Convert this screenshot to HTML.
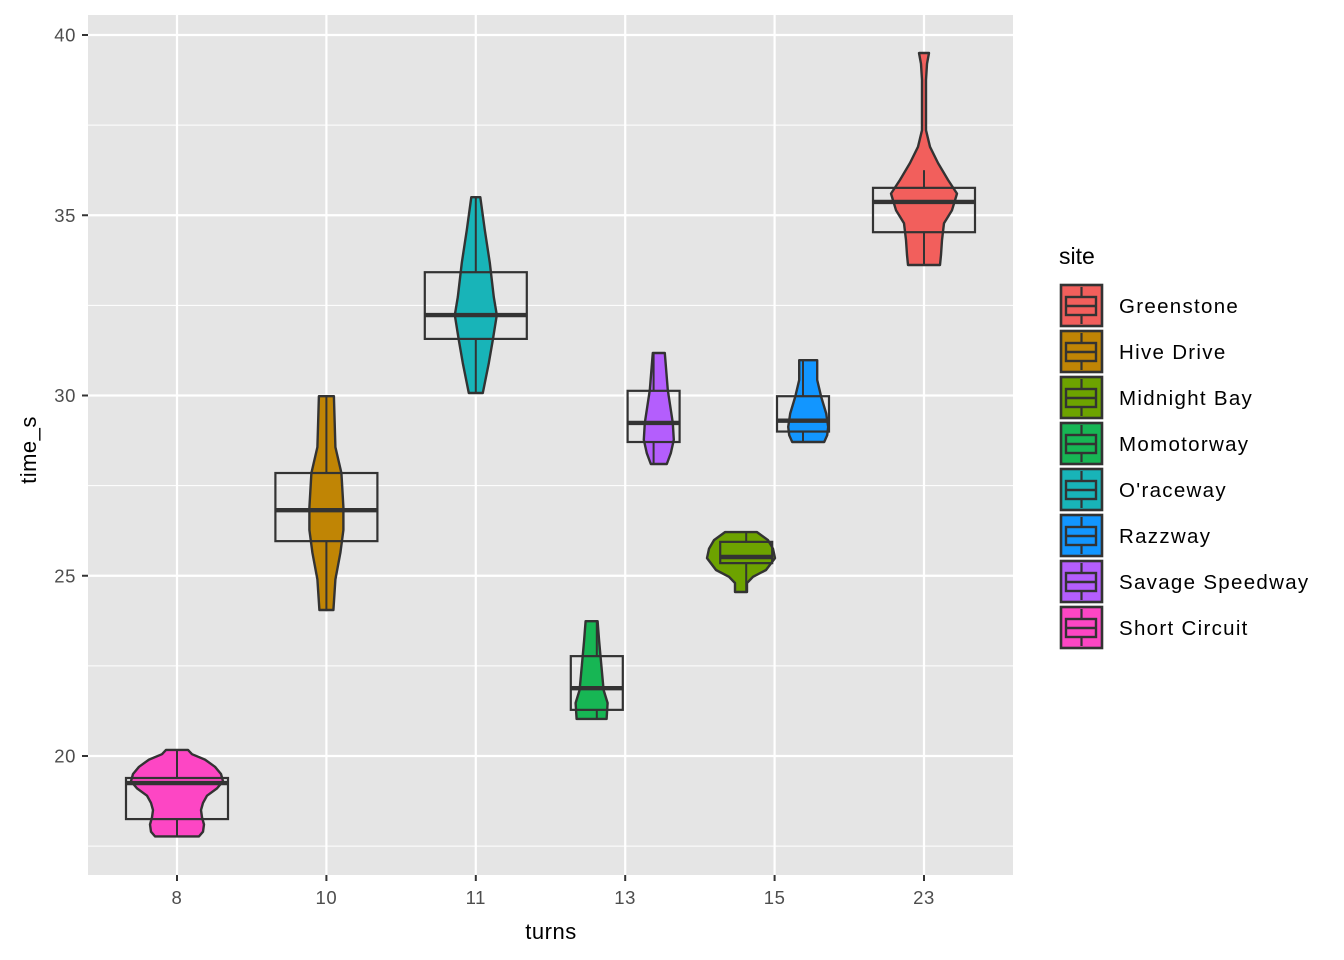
<!DOCTYPE html>
<html><head><meta charset="utf-8"><style>
html,body{margin:0;padding:0;background:#fff;}
svg{display:block;font-family:"Liberation Sans",Arial,sans-serif;}
</style></head><body>
<svg id="chart" width="1344" height="960" viewBox="0 0 1344 960"></svg>
<script>
const categories = ["8","10","11","13","15","23"];
const sites = ["Greenstone","Hive Drive","Midnight Bay","Momotorway","O'raceway","Razzway","Savage Speedway","Short Circuit"];
const colors = ["#F25F5C","#C08505","#6DA300","#17B654","#18B4B8","#1296FF","#B45EFD","#FD46C4"];
const siteCategory = [5,1,4,3,2,4,3,0];
const siteDodge = [0,0,-1,-1,0,1,1,0];
const q1 = [34.53,25.96,25.35,21.28,31.57,29.0,28.71,18.25];
const medians = [35.37,26.82,25.52,21.88,32.23,29.3,29.24,19.25];
const q3 = [35.76,27.85,25.94,22.77,33.42,29.98,30.13,19.39];
const whiskerLow = [33.62,24.02,24.55,21.03,30.07,28.71,28.1,17.77];
const whiskerHigh = [36.25,29.98,26.21,23.74,35.5,30.98,31.18,20.17];
const violinVals = [
 [39.5,39.2,38.75,37.36,36.9,36.45,35.98,35.6,35.14,34.78,34.31,33.9,33.62],
 [29.98,29.5,28.57,27.85,26.9,26.27,25.64,24.9,24.05],
 [26.21,25.99,25.75,25.49,25.16,24.97,24.8,24.55],
 [23.74,23.2,22.74,21.83,21.47,21.03],
 [35.5,34.59,33.68,32.73,32.23,31.54,30.9,30.07],
 [30.98,30.43,29.96,29.5,29.13,28.9,28.71],
 [31.18,30.15,29.24,28.77,28.4,28.1],
 [20.17,20.05,19.9,19.7,19.5,19.3,19.1,18.9,18.7,18.5,18.3,18.1,17.9,17.77]
];
const violinWidths = [
 [5,3,2,2,6,14,24,33,28,20,18,17,16],
 [7.5,8,9,15,17,17,14,9,7],
 [16,27,32,34,25,12,6,6],
 [6,7.5,9,12,16,15],
 [4.5,9,14,18,21,17,13,7],
 [9,9,13,18,20,19,16],
 [6,9,14,15,12,8],
 [11,15,28,38,44,46,40,30,26,24,25,27,26,22]
];
const yTicks = [20,25,30,35,40];
const yMinor = [17.5,22.5,27.5,32.5,37.5];

const NS="http://www.w3.org/2000/svg";
const svg=document.getElementById('chart');
const P={l:88,r:1013,t:15,b:875};
function y(v){return 35+(40-v)*36.05;}
function x(i){return 177+i*149.4;}
function el(tag,attrs,parent){const e=document.createElementNS(NS,tag);for(const k in attrs)e.setAttribute(k,attrs[k]);(parent||svg).appendChild(e);return e;}

const panel=el('rect',{x:P.l,y:P.t,width:P.r-P.l,height:P.b-P.t,fill:'#E5E5E5'});


yMinor.forEach(v=>{const g=el('line',{x1:P.l,x2:P.r,y1:y(v),y2:y(v),stroke:'#fff','stroke-width':1.1});

});
yTicks.forEach(v=>{const g=el('line',{x1:P.l,x2:P.r,y1:y(v),y2:y(v),stroke:'#fff','stroke-width':2.2});


const t=el('line',{x1:P.l-6,x2:P.l,y1:y(v),y2:y(v),stroke:'#333','stroke-width':2});


const lb=el('text',{x:P.l-12,y:y(v)+6.5,'text-anchor':'end','font-size':18.5,'letter-spacing':0.6,fill:'#4D4D4D'});lb.textContent=v;

});
categories.forEach((c,i)=>{const g=el('line',{x1:x(i),x2:x(i),y1:P.t,y2:P.b,stroke:'#fff','stroke-width':2.2});


const t=el('line',{x1:x(i),x2:x(i),y1:P.b,y2:P.b+6,stroke:'#333','stroke-width':2});


const lb=el('text',{x:x(i),y:P.b+29,'text-anchor':'middle','font-size':18.5,'letter-spacing':0.6,fill:'#4D4D4D'});lb.textContent=c;

});

sites.forEach((s,k)=>{
  const g=el('g',{});
  
  
  const cv=x(siteCategory[k])+siteDodge[k]*33.6;
  const cb=x(siteCategory[k])+siteDodge[k]*28.4;
  const hb=siteDodge[k]===0?51:26;
  const vals=violinVals[k], w=violinWidths[k];
  let pts=[];
  vals.forEach((v,i)=>pts.push([cv+w[i],y(v)]));
  for(let i=vals.length-1;i>=0;i--)pts.push([cv-w[i],y(vals[i])]);
  const p=el('path',{d:'M'+pts.map(p=>p[0].toFixed(1)+','+p[1].toFixed(1)).join('L')+'Z',fill:colors[k],stroke:'#333','stroke-width':2.4,'stroke-linejoin':'round'},g);
  
  
  const w1=el('line',{x1:cb,x2:cb,y1:y(q3[k]),y2:y(whiskerHigh[k]),stroke:'#333','stroke-width':2},g);
  
  
  const w2=el('line',{x1:cb,x2:cb,y1:y(q1[k]),y2:y(whiskerLow[k]),stroke:'#333','stroke-width':2},g);
  
  
  const b=el('rect',{x:cb-hb,y:y(q3[k]),width:2*hb,height:y(q1[k])-y(q3[k]),fill:'none',stroke:'#333','stroke-width':2.2},g);
  
  
  const m=el('line',{x1:cb-hb,x2:cb+hb,y1:y(medians[k]),y2:y(medians[k]),stroke:'#333','stroke-width':4.4},g);
  
  
});

const yt=el('text',{x:36,y:450,'text-anchor':'middle','font-size':22,'letter-spacing':0.5,fill:'#000',transform:'rotate(-90 36 450)'});yt.textContent='time_s';


const xt=el('text',{x:551,y:939,'text-anchor':'middle','font-size':22,'letter-spacing':0.5,fill:'#000'});xt.textContent='turns';



const lt=el('text',{x:1059,y:264,'font-size':23,fill:'#000'});lt.textContent='site';


sites.forEach((s,k)=>{
  const g=el('g',{});
  
  
  const ty=285+k*46;
  el('rect',{x:1061,y:ty,width:41,height:41,fill:colors[k],stroke:'#333','stroke-width':2.6},g);
  el('rect',{x:1066,y:ty+12,width:30,height:18,fill:'none',stroke:'#333','stroke-width':2.4},g);
  el('line',{x1:1066,x2:1096,y1:ty+21,y2:ty+21,stroke:'#333','stroke-width':2.6},g);
  el('line',{x1:1081.5,x2:1081.5,y1:ty+2,y2:ty+12,stroke:'#333','stroke-width':2.2},g);
  el('line',{x1:1081.5,x2:1081.5,y1:ty+30,y2:ty+39,stroke:'#333','stroke-width':2.2},g);
  const t=el('text',{x:1119,y:ty+28,'font-size':20.5,'letter-spacing':1.3,fill:'#000'},g);t.textContent=s;
});
</script>
</body></html>
